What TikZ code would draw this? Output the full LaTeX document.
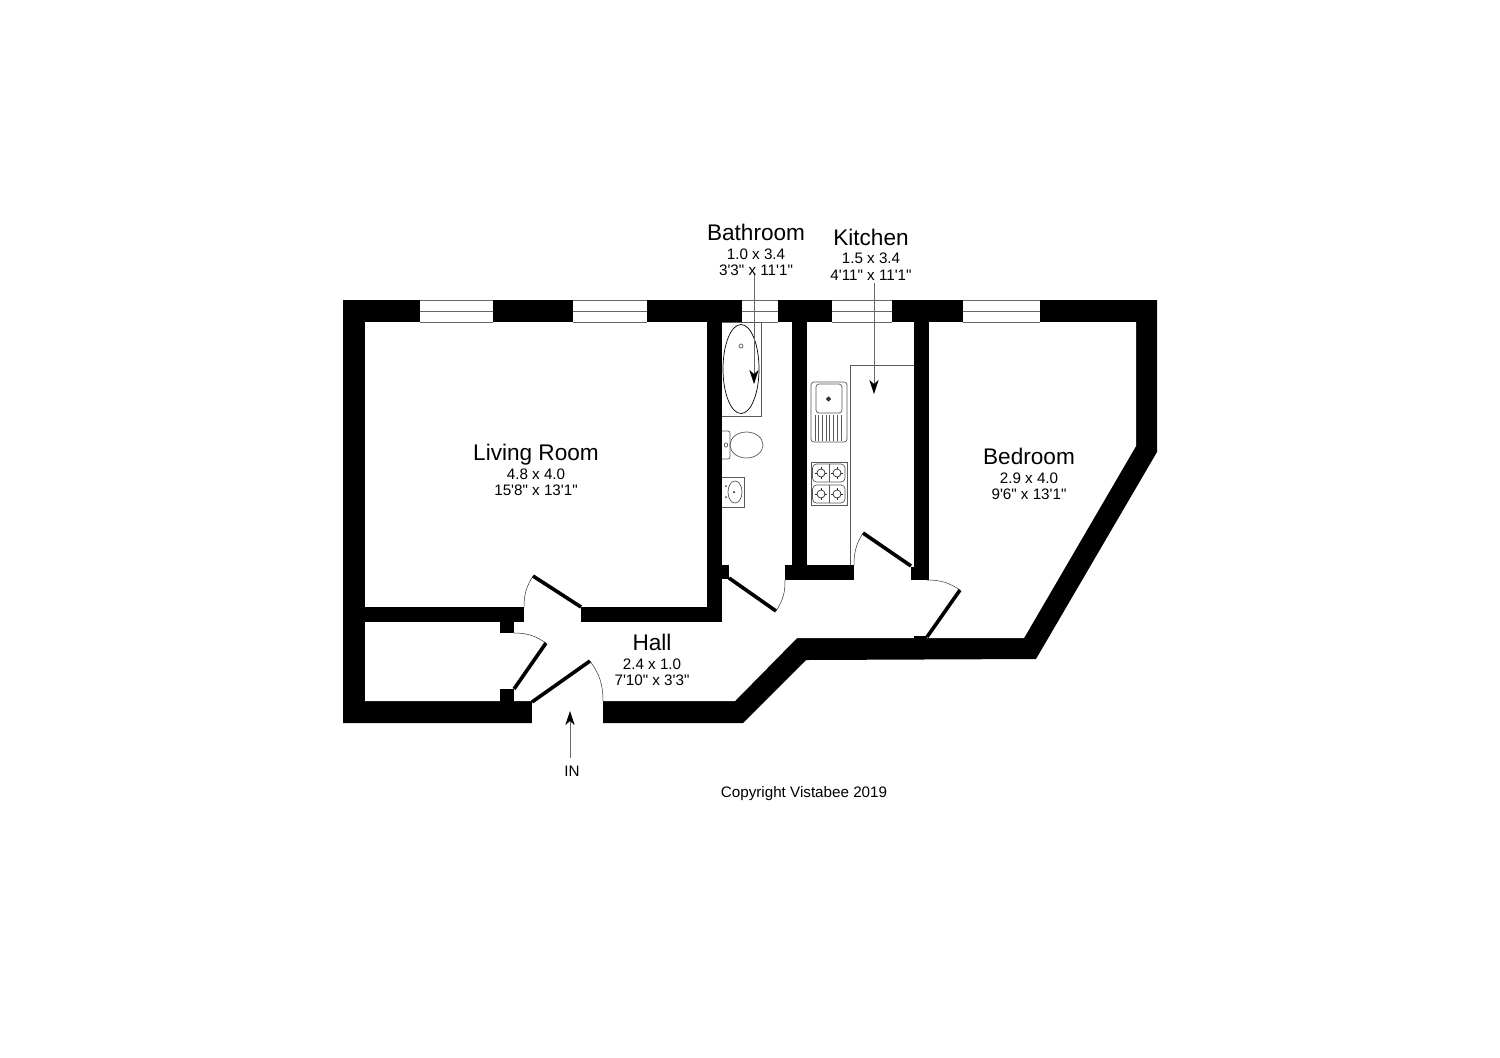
\documentclass[tikz,border=0pt]{standalone}
\usepackage{fontspec}
\newfontfamily\planfont{Liberation Sans}
\usetikzlibrary{arrows.meta}
\tikzset{
  wall/.style={fill=black},
  glass/.style={line width=0.4pt,draw=black!60},
  leaf/.style={line width=1.8pt,draw=black},
  swing/.style={line width=0.25pt,draw=black!80},
  fix/.style={line width=0.35pt,draw=black!65},
  pointer/.style={line width=0.3pt,draw=black!60,-{Stealth[length=7pt,width=4.6pt,inset=2pt,black]}},
  big/.style={anchor=base,font=\planfont\fontsize{11.3}{13}\selectfont,inner sep=0pt},
  small/.style={anchor=base,font=\planfont\fontsize{7.6}{9}\selectfont,inner sep=0pt}
}
\begin{document}
\begin{tikzpicture}[x=0.5pt,y=-0.5pt]
\useasboundingbox[fill=white] (0,0) rectangle (1500,1057);
% outer shell and rooms
\fill[wall] (343,300)--(1157,300)--(1157,452)--(1036,659)--(806,660)--(743,723)--(343,723)--cycle;
\fill[white] (365,322)--(1136,322)--(1136,446)--(1024,638)--(797,638)--(735,701)--(365,701)--cycle;
\fill[white] (532,700) rectangle (603,724);
% interior walls
\fill[wall] (364,607) rectangle (524,622);
\fill[wall] (581,607) rectangle (722,622);
\fill[wall] (707,321) rectangle (722,622);
\fill[wall] (721,565) rectangle (729,579);
\fill[wall] (792,321) rectangle (807,566);
\fill[wall] (785,565) rectangle (854,580);
\fill[wall] (914,321) rectangle (929,580);
\fill[wall] (911,567) rectangle (915,580);
\fill[wall] (500,621) rectangle (514,633);
\fill[wall] (500,689) rectangle (514,702);
\fill[wall] (914,636) rectangle (927,639);
% windows
\foreach \a/\b in {420/493,573/647,742/778,832/892,963/1040}{
  \fill[white] (\a,300) rectangle (\b,322.5);
  \draw[glass] (\a,300.5)--(\b,300.5) (\a,311)--(\b,311) (\a,322.3)--(\b,322.3);
}
% doors
\draw[leaf] (729,578)--(776,611);
\draw[swing] (776,611) to[bend right=17] (785,580);
\draw[leaf] (911,566)--(863,533);
\draw[swing] (863,533) to[bend right=16] (854,565);
\draw[leaf] (927,637)--(960,590);
\draw[swing] (960,590) to[bend right=17] (927,580);
\draw[leaf] (581,607)--(533,576);
\draw[swing] (533,576) to[bend right=16] (524,607);
\draw[leaf] (514,689)--(546,643);
\draw[swing] (546,643) to[bend right=17] (514,633);
\draw[leaf] (532,702)--(590,661);
\draw[swing] (590,661) to[bend left=18] (603,701);
% bath
\draw[fix] (722,322)--(761,322)--(761,416)--(722,416);
\draw[fix,draw=black] (741,369) ellipse[x radius=18,y radius=44.5];
\draw[fix] (741,346) circle[radius=2];
% toilet
\draw[fix,rounded corners=1pt] (722,431)--(730,431)--(730,459)--(722,459);
\draw[fix] (746.5,445) ellipse[x radius=16.5,y radius=13];
\draw[fix] (726,445) ellipse[x radius=1.7,y radius=2.2];
% basin
\draw[fix] (722,477)--(744,477)--(744,507)--(722,507);
\draw[fix] (735,492) ellipse[x radius=7,y radius=11];
\fill (734,492) circle[radius=1];
\fill[black!70] (726,486) circle[radius=1];
\fill[black!70] (726,497) circle[radius=1];
% kitchen units
\draw[fix] (914,365)--(850,365)--(850,565);
\draw[fix,rounded corners=1.5pt] (811,382) rectangle (847,442);
\draw[fix,rounded corners=1.5pt] (816,384) rectangle (842,413);
\draw[fix,line width=0.7pt,draw=black!85] (828.5,399) circle[radius=1.6];
\foreach \x in {815,818.7,...,842}{\draw[fix] (\x,415)--(\x,441);}
\draw[fix] (811,462) rectangle (847,505);
\draw[fix,rounded corners=2pt] (812.5,464) rectangle (845,482);
\draw[fix,rounded corners=2pt] (812.5,485) rectangle (845,503);
\draw[fix] (829,464)--(829,482) (829,485)--(829,503);
\foreach \x in {821,837}{\foreach \y in {473,494}{
  \draw[fix,draw=black!85] (\x,\y) circle[radius=4];
  \draw[fix,draw=black!85] (\x-6,\y)--(\x-4,\y) (\x+4,\y)--(\x+6,\y) (\x,\y-6)--(\x,\y-4) (\x,\y+4)--(\x,\y+6);
}}
% pointers
\coordinate (bathA) at (754,273);
\coordinate (bathB) at (754,384);
\coordinate (kitA) at (874,283);
\coordinate (kitB) at (874,394);
\coordinate (inA) at (570,758);
\coordinate (inB) at (570,711);
\draw[pointer] (bathA)--(bathB);
\draw[pointer] (kitA)--(kitB);
\draw[pointer] (inA)--(inB);
% labels
\node[big] (bathT) at (756,240) {Bathroom};
\node[small] (bathM) at (756,259) {1.0 x 3.4};
\node[small] (bathI) at (756,275.5) {3'3" x 11'1"};
\node[big] (kitT) at (871,245) {Kitchen};
\node[small] (kitM) at (871,263.5) {1.5 x 3.4};
\node[small] (kitI) at (871,280.5) {4'11" x 11'1"};
\node[big] (livT) at (536,460) {Living Room};
\node[small] (livM) at (536,479) {4.8 x 4.0};
\node[small] (livI) at (536,495.5) {15'8" x 13'1"};
\node[big] (bedT) at (1029,464) {Bedroom};
\node[small] (bedM) at (1029,483) {2.9 x 4.0};
\node[small] (bedI) at (1029,499) {9'6" x 13'1"};
\node[big] (hallT) at (652,650) {Hall};
\node[small] (hallM) at (652,669) {2.4 x 1.0};
\node[small] (hallI) at (652,685.5) {7'10" x 3'3"};
\node[small] (inT) at (572,776.5) {IN};
\node[small] (copy) at (804,797) {Copyright Vistabee 2019};
\end{tikzpicture}
\end{document}
